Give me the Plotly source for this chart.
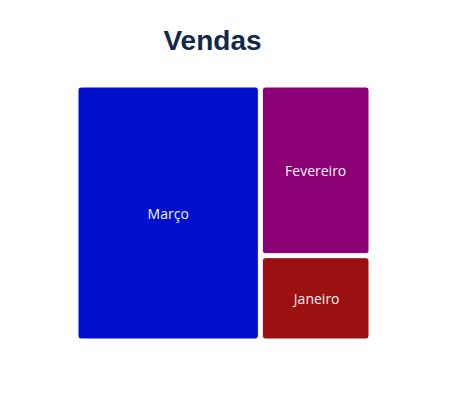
import plotly.graph_objects as go

meses = ["Março", "Fevereiro", "Janeiro"]
vendas = [5000, 2000, 1000]
cores = ["#0010CC", "#8B0075", "#9B1010"]

fig = go.Figure(go.Treemap(
    labels=meses,
    parents=["", "", ""],
    values=vendas,
    marker=dict(colors=cores, cornerradius=3, line=dict(width=1, color="white"),
                pad=dict(t=0, l=0, r=0, b=0)),
    tiling=dict(pad=4),
    pathbar=dict(visible=False),
    textinfo="label",
    textposition="middle center",
    textfont=dict(family="Open Sans", size=14, color="#f5f5f5"),
    sort=True,
))

fig.update_layout(
    width=457, height=412,
    title=dict(text="<b>Vendas</b>", x=204.5/457, xanchor="center", xref="container",
               y=1-32/412, yanchor="middle", yref="container",
               font=dict(family="Liberation Sans, Arial", size=28, color="#13294B")),
    margin=dict(l=70, r=96, t=79, b=81),
    paper_bgcolor="white",
)

fig.write_html("out.html")
